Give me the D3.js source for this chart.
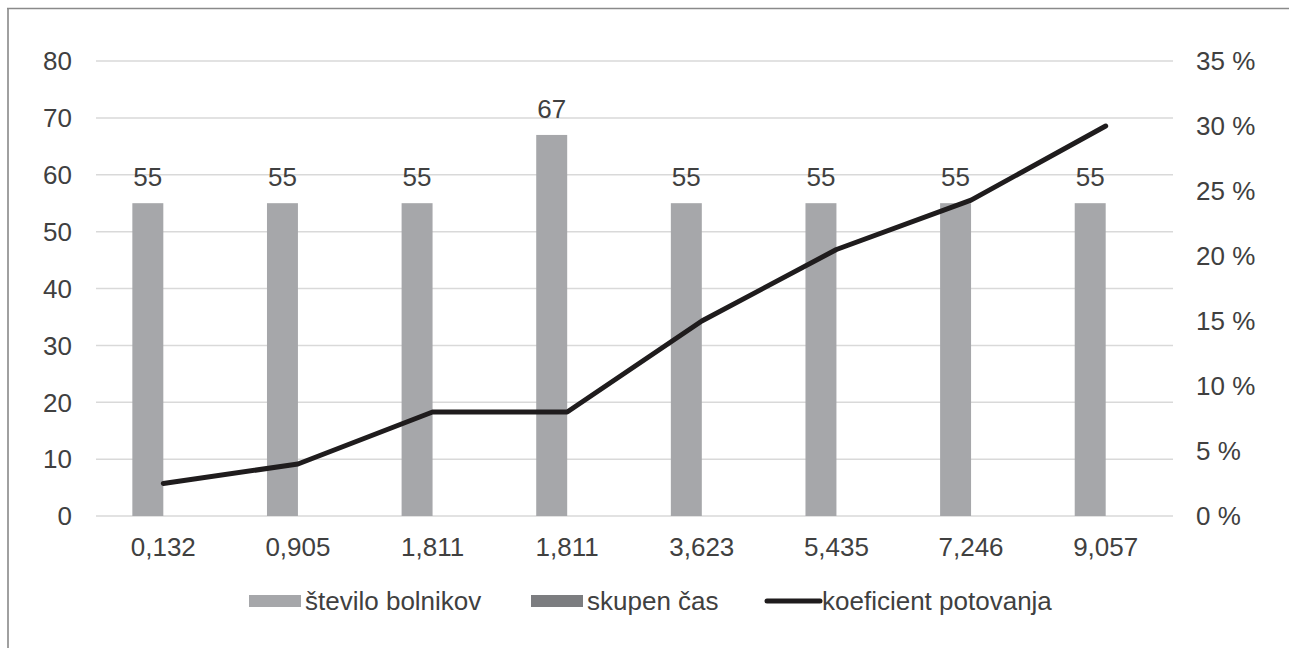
<!DOCTYPE html>
<html>
<head>
<meta charset="utf-8">
<script src="https://cdn.jsdelivr.net/npm/d3@7"></script>
<style>
  body { margin: 0; background: #fff; overflow: hidden; }
  text { font-family: "Liberation Sans", Arial, sans-serif; fill: #404040; }
</style>
</head>
<body>
<div id="chart"></div>
<script>
// Data
var categories = ["0,132", "0,905", "1,811", "1,811", "3,623", "5,435", "7,246", "9,057"];
var steviloBolnikov = [55, 55, 55, 67, 55, 55, 55, 55];
var skupenCas = [0, 0, 0, 0, 0, 0, 0, 0];
var koeficient = [2.5, 4, 8, 8, 15, 20.5, 24.3, 30];   // percent
var leftTicks = [0, 10, 20, 30, 40, 50, 60, 70, 80];
var rightTicks = [0, 5, 10, 15, 20, 25, 30, 35];
var seriesNames = ["število bolnikov", "skupen čas", "koeficient potovanja"];

var W = 1289, H = 648;
var margin = { top: 61, right: 116, bottom: 132, left: 96 },
    width = W - margin.left - margin.right,
    height = H - margin.top - margin.bottom;

var svg = d3.select("#chart").append("svg")
  .attr("width", W).attr("height", H).style("display", "block");

// outer frame (only left and top edges visible)
svg.append("line").attr("x1", 8).attr("x2", 8).attr("y1", 8).attr("y2", H)
  .attr("stroke", "#a0a0a0").attr("stroke-width", 2);
svg.append("line").attr("x1", 7).attr("x2", W).attr("y1", 8.5).attr("y2", 8.5)
  .attr("stroke", "#8a8a8a").attr("stroke-width", 1.5);

var g = svg.append("g").attr("transform", "translate(" + margin.left + "," + margin.top + ")");

var x0 = d3.scaleBand().domain(d3.range(categories.length)).range([0, width])
  .paddingInner(0.54).paddingOuter(0.27);
var x1 = d3.scaleBand().domain([0, 1]).range([0, x0.bandwidth()]);
var yL = d3.scaleLinear().domain([0, 80]).range([height, 0]);
var yR = d3.scaleLinear().domain([0, 35]).range([height, 0]);

// gridlines
g.selectAll(".grid").data(leftTicks).enter().append("line")
  .attr("x1", 0).attr("x2", width)
  .attr("y1", function(d) { return yL(d); }).attr("y2", function(d) { return yL(d); })
  .attr("stroke", "#d9d9d9").attr("stroke-width", 1.5);

var fs = 26;

// left axis labels
g.selectAll(".ly").data(leftTicks).enter().append("text")
  .attr("x", -24).attr("y", function(d) { return yL(d); })
  .attr("dy", "0.36em").attr("text-anchor", "end")
  .style("font-size", fs + "px")
  .text(function(d) { return d; });

// right axis labels
g.selectAll(".ry").data(rightTicks).enter().append("text")
  .attr("x", width + 23).attr("y", function(d) { return yR(d); })
  .attr("dy", "0.36em").attr("text-anchor", "start")
  .style("font-size", fs + "px")
  .text(function(d) { return d + " %"; });

// category labels
g.selectAll(".cx").data(categories).enter().append("text")
  .attr("x", function(d, i) { return x0(i) + x0.bandwidth() / 2; })
  .attr("y", height + 40)
  .attr("text-anchor", "middle")
  .style("font-size", fs + "px")
  .text(function(d) { return d; });

// bars
g.selectAll(".bar1").data(steviloBolnikov).enter().append("rect")
  .attr("x", function(d, i) { return x0(i) + x1(0); })
  .attr("width", x1.bandwidth())
  .attr("y", function(d) { return yL(d); })
  .attr("height", function(d) { return height - yL(d); })
  .attr("fill", "#a6a7aa");

g.selectAll(".bar2").data(skupenCas).enter().append("rect")
  .attr("x", function(d, i) { return x0(i) + x1(1); })
  .attr("width", x1.bandwidth())
  .attr("y", function(d) { return yL(d); })
  .attr("height", function(d) { return height - yL(d); })
  .attr("fill", "#7c7d80");

// bar value labels
g.selectAll(".bl").data(steviloBolnikov).enter().append("text")
  .attr("x", function(d, i) { return x0(i) + x1(0) + x1.bandwidth() / 2; })
  .attr("y", function(d) { return yL(d) - 17; })
  .attr("text-anchor", "middle")
  .style("font-size", fs + "px")
  .text(function(d) { return d; });

// line
var line = d3.line()
  .x(function(d, i) { return x0(i) + x0.bandwidth() / 2; })
  .y(function(d) { return yR(d); });

g.append("path").datum(koeficient)
  .attr("d", line)
  .attr("fill", "none").attr("stroke", "#1f1c1d")
  .attr("stroke-width", 5).attr("stroke-linejoin", "round").attr("stroke-linecap", "round");

// legend
var legend = svg.append("g");
var ly = 601;
legend.append("rect").attr("x", 249).attr("y", ly - 6).attr("width", 52).attr("height", 12).attr("fill", "#a6a7aa");
legend.append("text").attr("x", 305).attr("y", ly).attr("dy", "0.36em").style("font-size", fs + "px").text(seriesNames[0]);
legend.append("rect").attr("x", 531).attr("y", ly - 6).attr("width", 52).attr("height", 12).attr("fill", "#7c7d80");
legend.append("text").attr("x", 587).attr("y", ly).attr("dy", "0.36em").style("font-size", fs + "px").text(seriesNames[1]);
legend.append("line").attr("x1", 767).attr("x2", 820).attr("y1", ly).attr("y2", ly)
  .attr("stroke", "#1f1c1d").attr("stroke-width", 5).attr("stroke-linecap", "round");
legend.append("text").attr("x", 822).attr("y", ly).attr("dy", "0.36em").style("font-size", fs + "px").text(seriesNames[2]);
</script>
</body>
</html>
